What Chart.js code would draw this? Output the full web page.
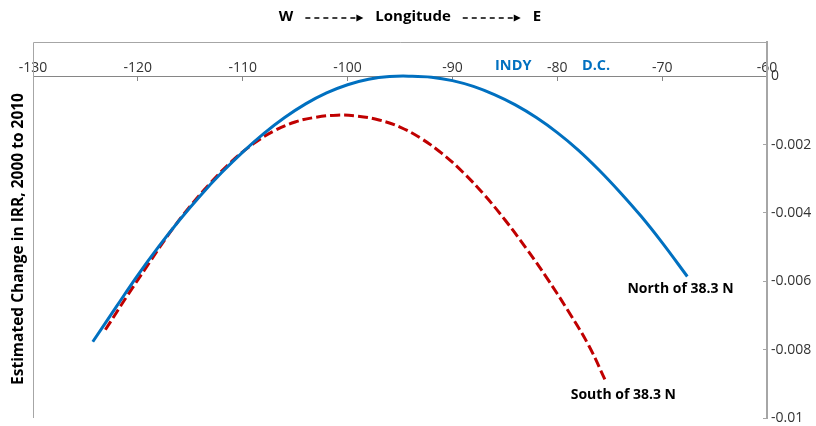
<!DOCTYPE html>
<html>
<head>
<meta charset="utf-8">
<script src="https://cdn.jsdelivr.net/npm/chart.js@4.4.0/dist/chart.umd.min.js"></script>
<style>
  html, body { margin: 0; padding: 0; background: #fff; }
  #wrap { width: 816px; height: 426px; }
</style>
</head>
<body>
<div id="wrap"><canvas id="irr-chart"></canvas></div>
<script>
// values
const northLon = [-124.3, -122, -120, -118, -116, -114, -112, -110, -108, -106, -104, -102, -100, -98, -96, -94, -92, -90, -88, -86, -84, -82, -80, -78, -76, -74, -72, -70, -67.6];
const northIrr = [-0.00777, -0.00672, -0.00582, -0.00498, -0.0042, -0.00348, -0.00282, -0.00222, -0.00168, -0.00121, -0.00081, -0.00049, -0.00025, -0.00009, -0.00001, 0, -0.00003, -0.00013, -0.0003, -0.00054, -0.00084, -0.00121, -0.00165, -0.00216, -0.00275, -0.0034, -0.0041, -0.00487, -0.00586];
const southLon = [-123.1, -121, -119, -117, -115, -113, -111, -109, -107, -105, -103, -101, -99, -97, -95, -93, -91, -89, -87, -85, -83, -81, -79, -77, -75.3];
const southIrr = [-0.00742, -0.00642, -0.0055, -0.0046, -0.0038, -0.0031, -0.00248, -0.00198, -0.0016, -0.00134, -0.0012, -0.00114, -0.00117, -0.00128, -0.00149, -0.00182, -0.00226, -0.00281, -0.00346, -0.0042, -0.00502, -0.0059, -0.00685, -0.00788, -0.00898];

const seriesNames = ['North of 38.3 N', 'South of 38.3 N'];
const lonTicks = [-130, -120, -110, -100, -90, -80, -70, -60];
const irrTicks = [0, -0.002, -0.004, -0.006, -0.008, -0.01];
const irrTickLabels = ['0', '-0.002', '-0.004', '-0.006', '-0.008', '-0.01'];
const cityNames = ['INDY', 'D.C.'];
const cityLon = [-84.2, -76.3];

const BLUE = '#0070C0';
const RED = '#C00000';
const FONT = '"Open Sans", "DejaVu Sans", sans-serif';

function dashedArrow(ctx, x0, x1, y) {
    ctx.save();
    ctx.strokeStyle = '#000';
    ctx.fillStyle = '#000';
    ctx.lineWidth = 1.6;
    ctx.setLineDash([5, 4]);
    ctx.beginPath();
    ctx.moveTo(x0, y);
    ctx.lineTo(x1 - 6, y);
    ctx.stroke();
    ctx.setLineDash([]);
    ctx.beginPath();
    ctx.moveTo(x1, y);
    ctx.lineTo(x1 - 7, y - 3.5);
    ctx.lineTo(x1 - 7, y + 3.5);
    ctx.closePath();
    ctx.fill();
    ctx.restore();
}

const textPlugin = {
    id: 'irrText',
    afterDraw(chart) {
        const { ctx, chartArea, scales } = chart;
        const xs = scales.x, ys = scales.y;
        ctx.save();

        // frame: top and left edges of the plot box
        ctx.strokeStyle = '#a6a6a6';
        ctx.lineWidth = 1;
        ctx.beginPath();
        ctx.moveTo(chartArea.left + 0.5, chartArea.bottom);
        ctx.lineTo(chartArea.left + 0.5, chartArea.top + 0.5);
        ctx.lineTo(chartArea.right, chartArea.top + 0.5);
        ctx.stroke();

        // top title: W ----> Longitude ----> E
        ctx.font = 'bold 15px ' + FONT;
        ctx.fillStyle = '#000';
        ctx.textBaseline = 'middle';
        ctx.textAlign = 'left';
        const wW = ctx.measureText('W').width;
        const wL = ctx.measureText('Longitude').width;
        const wE = ctx.measureText('E').width;
        const arrow = 58, gap = 12;
        const total = wW + wL + wE + 2 * arrow + 4 * gap;
        let x = 410 - total / 2;
        const ty = 17;
        ctx.fillText('W', x, ty); x += wW + gap;
        dashedArrow(ctx, x, x + arrow, ty + 1); x += arrow + gap;
        ctx.fillText('Longitude', x, ty); x += wL + gap;
        dashedArrow(ctx, x, x + arrow, ty + 1); x += arrow + gap;
        ctx.fillText('E', x, ty);

        // left axis title
        ctx.save();
        ctx.translate(19, 239);
        ctx.rotate(-Math.PI / 2);
        ctx.textAlign = 'center';
        ctx.font = 'bold 15.5px ' + FONT;
        ctx.fillText('Estimated Change in IRR, 2000 to 2010', 0, 0);
        ctx.restore();

        // city markers on the longitude axis
        ctx.font = 'bold 14.5px ' + FONT;
        ctx.fillStyle = BLUE;
        ctx.textAlign = 'center';
        const cityY = ys.getPixelForValue(0) - 10;
        cityNames.forEach((name, i) => {
            ctx.fillText(name, xs.getPixelForValue(cityLon[i]), cityY);
        });

        // series labels next to the curve ends
        ctx.fillStyle = '#000';
        ctx.font = 'bold 14px ' + FONT;
        ctx.fillText(seriesNames[0], xs.getPixelForValue(-68.25), ys.getPixelForValue(-0.00622));
        ctx.fillText(seriesNames[1], xs.getPixelForValue(-73.7), ys.getPixelForValue(-0.00933));

        ctx.restore();
    }
};

const canvas = document.getElementById('irr-chart');
new Chart(canvas.getContext('2d'), {
    type: 'line',
    data: {
        datasets: [
            {
                label: seriesNames[0],
                data: northLon.map((lon, i) => ({ x: lon, y: northIrr[i] })),
                borderColor: BLUE,
                borderWidth: 3,
                pointRadius: 0,
                fill: false,
                tension: 0.4
            },
            {
                label: seriesNames[1],
                data: southLon.map((lon, i) => ({ x: lon, y: southIrr[i] })),
                borderColor: RED,
                borderWidth: 3,
                borderDash: [10, 4],
                pointRadius: 0,
                fill: false,
                tension: 0.4
            }
        ]
    },
    options: {
        responsive: true,
        maintainAspectRatio: false,
        animation: false,
        layout: { padding: { left: 33, top: 42, right: 0, bottom: 8 } },
        plugins: {
            legend: { display: false },
            tooltip: { enabled: false }
        },
        scales: {
            x: {
                type: 'linear',
                min: -130,
                max: -60,
                position: { y: 0 },
                afterBuildTicks: (scale) => { scale.ticks = lonTicks.map(v => ({ value: v })); },
                grid: { drawOnChartArea: false, tickLength: 4, color: '#868686' },
                border: { color: '#868686', width: 1 },
                ticks: {
                    padding: -21,
                    autoSkip: false,
                    maxRotation: 0,
                    color: '#333',
                    font: { family: FONT, size: 14 }
                }
            },
            y: {
                type: 'linear',
                position: 'right',
                min: -0.01,
                max: 0.001,
                afterBuildTicks: (scale) => { scale.ticks = irrTicks.map(v => ({ value: v })); },
                afterFit: (scale) => {
                    scale.width = 49;
                    scale.paddingTop = 0;
                    scale.paddingBottom = 0;
                },
                grid: { drawOnChartArea: false, tickLength: -4, color: '#a6a6a6' },
                border: { color: '#a6a6a6', width: 2 },
                ticks: {
                    padding: 8,
                    color: '#333',
                    font: { family: FONT, size: 14 },
                    callback: (v) => {
                        const i = irrTicks.indexOf(v);
                        return i >= 0 ? irrTickLabels[i] : '';
                    }
                }
            }
        }
    },
    plugins: [textPlugin]
});
</script>
</body>
</html>
